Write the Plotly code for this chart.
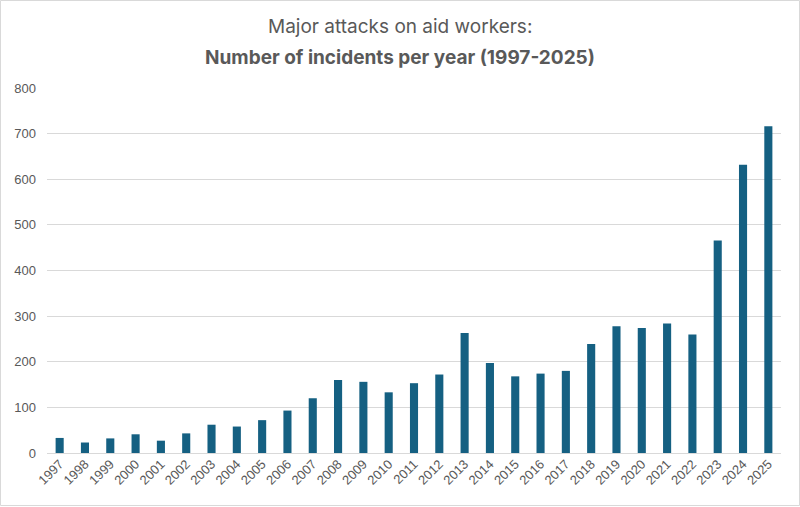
import plotly.graph_objects as go

years = [str(y) for y in range(1997, 2026)]
incidents = [33, 23, 32, 41, 27, 43, 62, 58, 72, 93, 120, 160, 156, 133, 153,
             172, 263, 197, 168, 174, 180, 239, 278, 274, 284, 260, 466, 632, 716]
y_ticks = [0, 100, 200, 300, 400, 500, 600, 700, 800]

W, H = 800, 507
L, R, T, B = 47, 19, 88, 54
ph = H - T - B

fig = go.Figure(go.Bar(x=years, y=incidents, marker=dict(color="#156082", line=dict(width=0)),
                       width=0.32))

def py(p):
    return (H - B - p) / ph

fig.update_layout(
    width=W, height=H,
    margin=dict(l=L, r=R, t=T, b=B),
    paper_bgcolor="white", plot_bgcolor="white",
    showlegend=False,
    font=dict(family="Liberation Sans, Arial", color="#595959", size=13),
    xaxis=dict(type="category", tickangle=-45, showgrid=False, showline=False, ticks="",
               tickfont=dict(size=13, color="#595959")),
    yaxis=dict(range=[0, 800], tickvals=y_ticks, showgrid=True, gridcolor="#d9d9d9", gridwidth=1,
               zeroline=True, zerolinecolor="#d9d9d9", zerolinewidth=1, showline=False, ticks="",
               ticklabelstandoff=10, tickfont=dict(size=13, color="#595959")),
    annotations=[
        dict(text="Major attacks on aid workers:", xref="paper", yref="paper",
             x=(400 - L) / (W - L - R), y=py(27), xanchor="center", yanchor="middle",
             showarrow=False, font=dict(family="Inter, Noto Sans", size=19, color="#595959")),
        dict(text="<b>Number of incidents per year (1997-2025)</b>", xref="paper", yref="paper",
             x=(400 - L) / (W - L - R), y=py(57), xanchor="center", yanchor="middle",
             showarrow=False, font=dict(family="Inter, Noto Sans", size=19, color="#595959")),
    ],
    shapes=[dict(type="rect", xref="paper", yref="paper",
                 x0=(0.5 - L) / (W - L - R), x1=(W - 0.5 - L) / (W - L - R),
                 y0=py(H - 1.5), y1=py(0.5),
                 line=dict(color="#d9d9d9", width=1), fillcolor="rgba(0,0,0,0)", layer="below")],
)

fig.write_html("out.html")
